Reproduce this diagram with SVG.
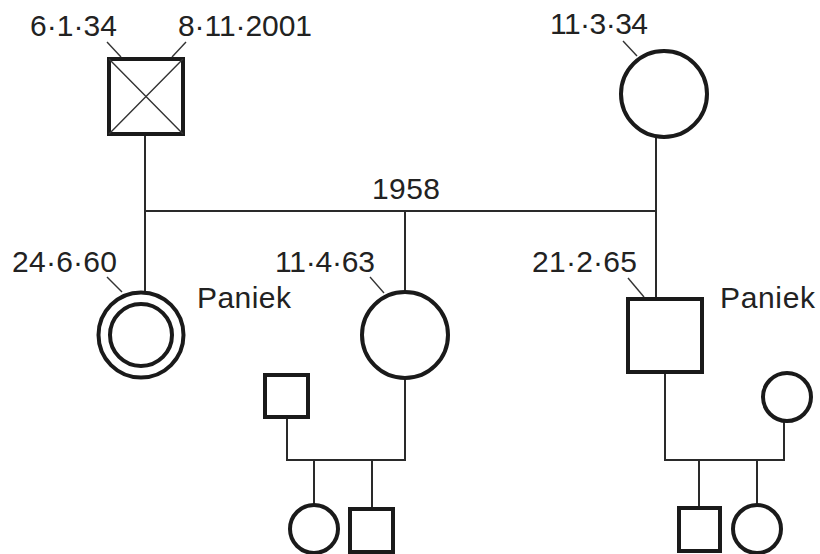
<svg xmlns="http://www.w3.org/2000/svg" width="820" height="554" viewBox="0 0 820 554">
<style>
.node{fill:#fff;stroke:#1a1a1a;stroke-width:4}
.thin{stroke:#333;stroke-width:1.4;fill:none}
.line{stroke:#2a2a2a;stroke-width:2;fill:none}
text{font-family:"Liberation Sans",Arial,sans-serif;font-size:30px;fill:#222}
</style>
<rect width="820" height="554" fill="#fff"/>
<g id="connectors">
<line class="line" x1="145" y1="136" x2="145" y2="292"/>
<line class="line" x1="656" y1="137" x2="656" y2="299"/>
<line class="line" x1="144" y1="211" x2="657" y2="211"/>
<line class="line" x1="405" y1="211" x2="405" y2="292"/>
<line class="line" x1="287" y1="417" x2="287" y2="460"/>
<line class="line" x1="405" y1="378" x2="405" y2="460"/>
<line class="line" x1="286" y1="460" x2="406" y2="460"/>
<line class="line" x1="314" y1="460" x2="314" y2="504"/>
<line class="line" x1="372" y1="460" x2="372" y2="509"/>
<line class="line" x1="665" y1="372" x2="665" y2="460"/>
<line class="line" x1="784" y1="420" x2="784" y2="460"/>
<line class="line" x1="664" y1="460" x2="785" y2="460"/>
<line class="line" x1="699" y1="460" x2="699" y2="508"/>
<line class="line" x1="757" y1="460" x2="757" y2="504"/>
</g>
<g id="grandfather">
<rect class="node" x="109" y="59" width="74" height="75"/>
<path class="thin" d="M109 59 L183 134 M183 59 L109 134"/>
<text x="30" y="36" textLength="87" lengthAdjust="spacing">6·1·34</text>
<text x="178" y="36" textLength="134" lengthAdjust="spacing">8·11·2001</text>
<line class="thin" x1="107" y1="42" x2="121" y2="57"/>
<line class="thin" x1="186" y1="42" x2="172" y2="57"/>
</g>
<g id="grandmother">
<circle class="node" cx="664" cy="94" r="43"/>
<text x="550" y="34" textLength="98" lengthAdjust="spacing">11·3·34</text>
<line class="thin" x1="623" y1="41" x2="637" y2="56"/>
</g>
<text id="marriage-year" x="372" y="199" textLength="68" lengthAdjust="spacing">1958</text>
<g id="daughter1">
<circle class="node" cx="141" cy="335" r="42.5"/>
<circle class="node" cx="141" cy="335" r="31"/>
<text x="12" y="272" textLength="105" lengthAdjust="spacing">24·6·60</text>
<line class="thin" x1="107" y1="277" x2="122" y2="292"/>
<text x="197" y="308" textLength="94" lengthAdjust="spacing">Paniek</text>
</g>
<g id="daughter2">
<circle class="node" cx="405" cy="335" r="43"/>
<text x="275" y="272" textLength="100" lengthAdjust="spacing">11·4·63</text>
<line class="thin" x1="370" y1="277" x2="384" y2="293"/>
</g>
<g id="son">
<rect class="node" x="628" y="299" width="74" height="73"/>
<text x="532" y="272" textLength="105" lengthAdjust="spacing">21·2·65</text>
<line class="thin" x1="628" y1="278" x2="644" y2="297"/>
<text x="720" y="308" textLength="95" lengthAdjust="spacing">Paniek</text>
</g>
<g id="daughter2-spouse">
<rect class="node" x="265" y="375" width="43" height="42"/>
</g>
<g id="grandchild1">
<circle class="node" cx="314" cy="529" r="24"/>
</g>
<g id="grandchild2">
<rect class="node" x="350" y="509" width="43" height="43"/>
</g>
<g id="son-spouse">
<circle class="node" cx="787" cy="397" r="24"/>
</g>
<g id="grandchild3">
<rect class="node" x="679" y="508" width="41" height="43"/>
</g>
<g id="grandchild4">
<circle class="node" cx="757" cy="529" r="24"/>
</g>
</svg>
